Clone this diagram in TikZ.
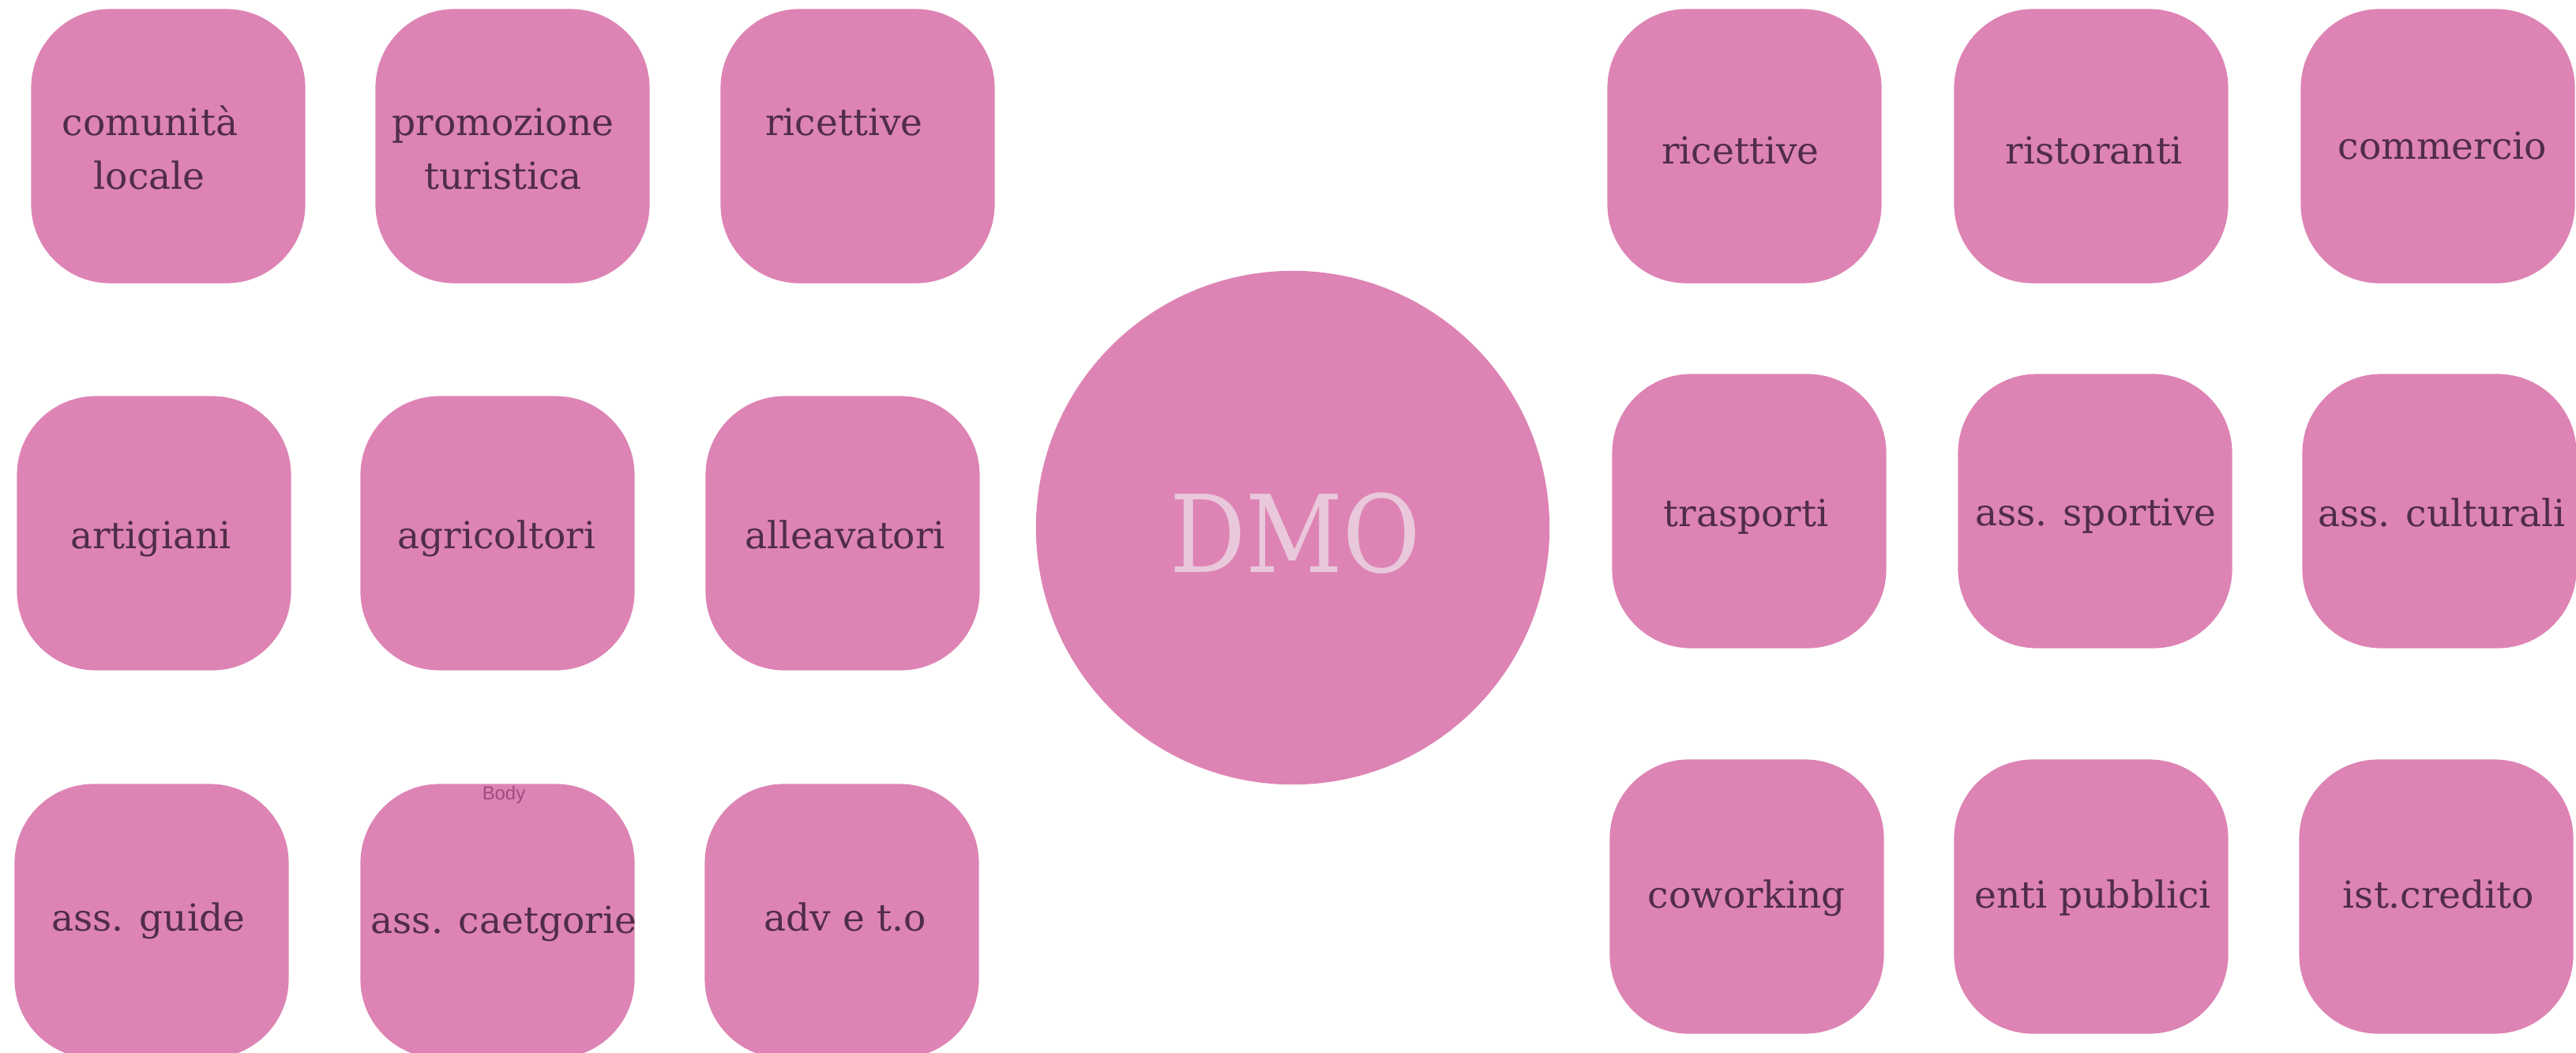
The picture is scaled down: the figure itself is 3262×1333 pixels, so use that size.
\documentclass[tikz,border=0pt]{standalone}
\usepackage{fontspec}
\setmainfont{DejaVu Serif}
\newfontfamily\bodyfont{Liberation Sans}
\definecolor{boxpink}{RGB}{221,132,180}
\definecolor{boxtext}{RGB}{80,45,70}
\definecolor{dmotext}{RGB}{234,200,220}
\definecolor{bodytext}{RGB}{160,74,128}
\tikzset{
  card/.style={fill=boxpink, draw=none, rounded corners=1cm, minimum width=3.47cm, minimum height=3.47cm, inner sep=0pt},
  lbl/.style={anchor=base, text=boxtext, font=\fontsize{13.4}{16}\selectfont, inner sep=0pt},
  hub/.style={circle, fill=boxpink, draw=none, minimum size=6.5cm, inner sep=0pt},
}
\begin{document}
\begin{tikzpicture}[x=0.01cm,y=-0.01cm]
\useasboundingbox (0,0) rectangle (3262,1333);
% left block
\node[card] (l11) at (213,185) {};
\node[card] (l12) at (649,185) {};
\node[card] (l13) at (1086,185) {};
\node[card] (l21) at (195,675) {};
\node[card] (l22) at (630,675) {};
\node[card] (l23) at (1067,675) {};
\node[card] (l31) at (192,1166) {};
\node[card] (l32) at (630,1166) {};
\node[card] (l33) at (1066,1166) {};
% right block
\node[card] (r11) at (2209,185) {};
\node[card] (r12) at (2648,185) {};
\node[card] (r13) at (3087,185) {};
\node[card] (r21) at (2215,647) {};
\node[card] (r22) at (2653,647) {};
\node[card] (r23) at (3089,647) {};
\node[card] (r31) at (2212,1135) {};
\node[card] (r32) at (2648,1135) {};
\node[card] (r33) at (3085,1135) {};
% hub
\node[hub] (dmo) at (1637,668) {};
\node[anchor=base, text=dmotext, inner sep=0pt] (dmotxt) at (1640,724) {\scalebox{0.885}[1]{\fontsize{38.6}{44}\selectfont DMO}};
% labels left
\node[lbl] (t1a) at (190,171) {comunità};
\node[lbl] (t1b) at (189,239) {locale};
\node[lbl] (t2a) at (637,171) {promozione};
\node[lbl] (t2b) at (637,239) {turistica};
\node[lbl] (t3) at (1069,171) {ricettive};
\node[lbl] (t4) at (191,694) {artigiani};
\node[lbl] (t5) at (629,694) {agricoltori};
\node[lbl] (t6) at (1070,694) {alleavatori};
\node[lbl] (t7) at (188,1178) {ass. guide};
\node[lbl] (t8) at (638,1181) {ass. caetgorie};
\node[lbl] (t9) at (1070,1178) {adv e t.o};
\node[anchor=base, text=bodytext, inner sep=0pt, font=\bodyfont\fontsize{6.8}{8}\selectfont] (body) at (638,1012) {Body};
% labels right
\node[lbl] (u1) at (2204,207) {ricettive};
\node[lbl] (u2) at (2652,207) {ristoranti};
\node[lbl] (u3) at (3093,201) {commercio};
\node[lbl] (u4) at (2211,666) {trasporti};
\node[lbl] (u5) at (2654,665) {ass. sportive};
\node[lbl] (u6) at (3092,666) {ass. culturali};
\node[lbl] (u7) at (2212,1149) {coworking};
\node[lbl] (u8) at (2650,1149) {enti pubblici};
\node[lbl] (u9) at (3088,1149) {ist.credito};
\end{tikzpicture}
\end{document}
